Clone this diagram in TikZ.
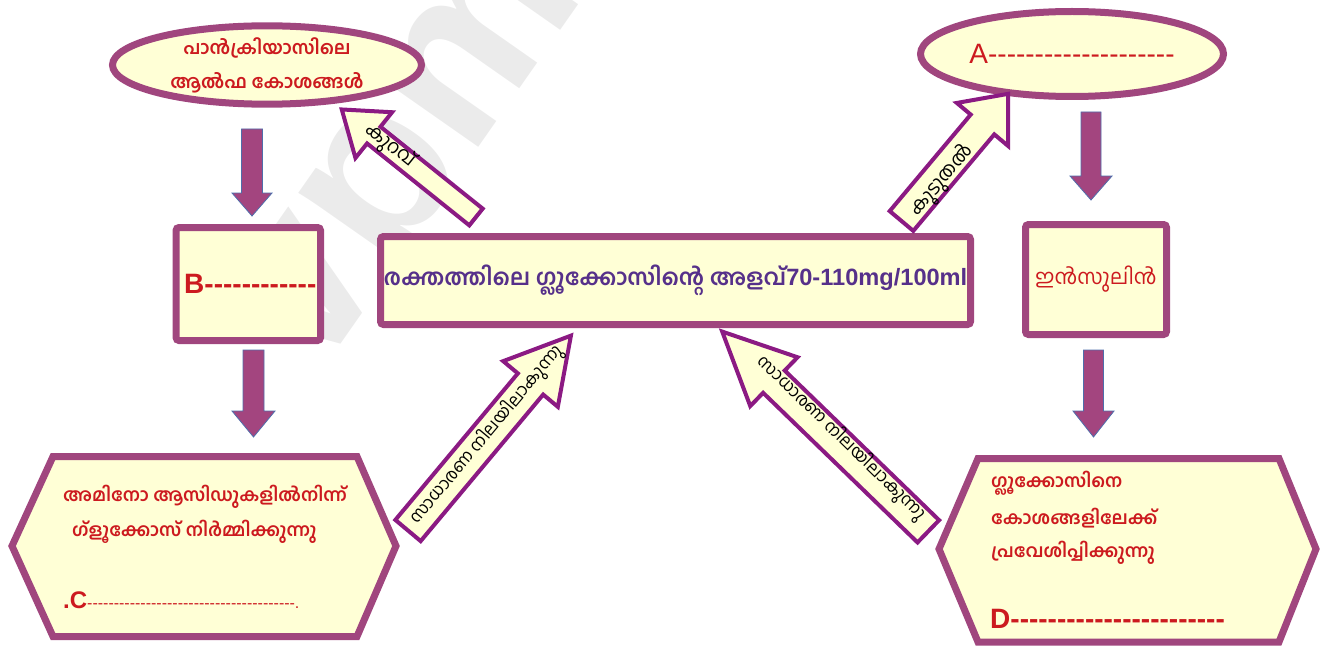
\documentclass[tikz,border=0pt]{standalone}
\usepackage{fontspec}
\setmainfont{Liberation Sans}[Ligatures=TeXOff]
\newfontfamily\mal[Script=Malayalam]{Hind Kochi}
\usetikzlibrary{shapes.geometric}
\definecolor{bord}{HTML}{A0467E}
\definecolor{fillY}{HTML}{FFFFD6}
\definecolor{arrB}{HTML}{8B1A83}
\definecolor{dnF}{HTML}{A3457F}
\definecolor{dnB}{HTML}{4E6EAB}
\definecolor{txtR}{HTML}{CC1A1F}
\definecolor{txtP}{HTML}{56308A}
\definecolor{wm}{HTML}{EBEBEB}
\tikzset{
  boxst/.style={draw=bord, line width=7pt, fill=fillY, rounded corners=3pt, inner sep=0pt},
  ellst/.style={ellipse, draw=bord, line width=7pt, fill=fillY, inner sep=0pt},
  hexst/.style={draw=bord, line width=7pt, fill=fillY, line join=miter},
  barrow/.style={draw=arrB, line width=4pt, fill=fillY, line join=miter},
  darrow/.style={draw=dnB, line width=0.8pt, fill=dnF},
  redb/.style={text=txtR, inner sep=0pt, font={\mal\bfseries\fontsize{18}{22}\selectfont}},
  arrtxt/.style={text=black, inner sep=0pt, font={\mal\fontsize{17}{20}\selectfont}},
}
% block arrow: base coordinate, angle, length, shaft half, head half, head length
\newcommand{\mkdiagarrow}[6]{%
  \begin{scope}[shift={(#1)}, rotate=#2]
    \draw[barrow] (0,-#4) -- ({#3-#6},-#4) -- ({#3-#6},-#5) -- (#3,0)
      -- ({#3-#6},#5) -- ({#3-#6},#4) -- (0,#4) -- cycle;
  \end{scope}}
% down arrow: cx, top, head start, tip, shaft half, head half
\newcommand{\mkdownarrow}[6]{%
  \draw[darrow] ({#1-#5},#2) -- ({#1+#5},#2) -- ({#1+#5},#3) -- ({#1+#6},#3)
    -- (#1,#4) -- ({#1-#6},#3) -- ({#1-#5},#3) -- cycle;}
\begin{document}
\begin{tikzpicture}[x=1pt,y=-1pt]
\useasboundingbox (0,0) rectangle (1327,650);
% watermark
\node[text=wm, font={\bfseries\fontsize{230}{230}\selectfont}, rotate=55] (wmark) at (420,165) {vpm};

% top ellipses
\node[ellst, minimum width=309pt, minimum height=73pt, align=center, text=txtR,
      font={\mal\bfseries\fontsize{18.5}{34}\selectfont}] (alpha) at (267,65)
      {പാൻക്രിയാസിലെ\\ആൽഫ കോശങ്ങൾ};
\node[ellst, minimum width=303pt, minimum height=85pt, text=txtR,
      font={\fontsize{28}{30}\selectfont}] (A) at (1072,54) {A--------------------};

% boxes
\node[boxst, minimum width=144.5pt, minimum height=113pt, text=txtR,
      font={\bfseries\fontsize{28}{30}\selectfont}] (B) at (248.3,284) {\hspace{4pt}B------------};
\node[boxst, minimum width=590pt, minimum height=88pt, text=txtP,
      font={\bfseries\fontsize{23.6}{28}\selectfont}] (blood) at (675.5,280.5)
      {{\mal\fontsize{22.6}{28}\selectfont രക്തത്തിലെ ഗ്ലൂക്കോസിന്റെ അളവ്}70-110mg/100ml};
\node[boxst, minimum width=141pt, minimum height=110pt, text=txtR,
      font={\mal\fontsize{21}{24}\selectfont}] (ins) at (1096,279.5) {ഇൻസുലിൻ};

% hexagons
\draw[hexst] (12,546) -- (53,456.5) -- (357,456.5) -- (396,546) -- (357,636.5) -- (53,636.5) -- cycle;
\draw[hexst] (939,549) -- (978,458.5) -- (1279,458.5) -- (1316,549) -- (1279,642) -- (978,642) -- cycle;

\node[redb, anchor=west] (c1) at (63,497) {അമിനോ ആസിഡുകളിൽനിന്ന്};
\node[redb, anchor=west] (c2) at (72,532) {ഗ്ളൂക്കോസ് നിർമ്മിക്കുന്നു};
\node[anchor=west, inner sep=0pt, text=txtR] (c3) at (63,600)
  {{\bfseries\fontsize{24}{26}\selectfont .C}{\fontsize{16}{18}\selectfont ---------------------------------------.}};

\node[redb, anchor=west] (d1) at (991,483) {ഗ്ലൂക്കോസിനെ};
\node[redb, anchor=west] (d2) at (991,518) {കോശങ്ങളിലേക്ക്};
\node[redb, anchor=west] (d3) at (991,553) {പ്രവേശിപ്പിക്കുന്നു};
\node[anchor=west, inner sep=0pt, text=txtR, font={\bfseries\fontsize{28}{30}\selectfont}] (d4) at (990,619)
  {D-----------------------};

% down arrows
\mkdownarrow{252}{129}{193}{216}{10.5}{20}
\mkdownarrow{253.5}{350}{411}{437}{10.5}{21.5}
\mkdownarrow{1091}{112}{176}{200}{10}{21}
\mkdownarrow{1093.5}{350}{411}{437}{10}{20.5}

% diagonal block arrows
\coordinate (aBase) at (476,217);
\coordinate (bBase) at (901.5,221);
\coordinate (cBase) at (408,530.5);
\coordinate (dBase) at (928.3,531.3);
\mkdiagarrow{aBase}{141.3}{172}{10.7}{29.3}{41}
\mkdiagarrow{bBase}{50}{166}{15.4}{33.5}{40}
\mkdiagarrow{cBase}{50.1}{254}{16.5}{35.6}{63}
\mkdiagarrow{dBase}{135.9}{287}{15.5}{34}{72}

\node[arrtxt, rotate=-38.7, font={\mal\fontsize{19}{20}\selectfont}] (t1) at (390,146) {കുറവ്};
\node[arrtxt, rotate=50, font={\mal\fontsize{19}{20}\selectfont}] (t2) at (942,181) {കൂടുതൽ};
\node[arrtxt, rotate=50.1] (t3) at (487,435) {സാധാരണ നിലയിലാകുന്നു};
\node[arrtxt, rotate=-44.1] (t4) at (841,438) {സാധാരണ നിലയിലാകുന്നു};
\end{tikzpicture}
\end{document}
